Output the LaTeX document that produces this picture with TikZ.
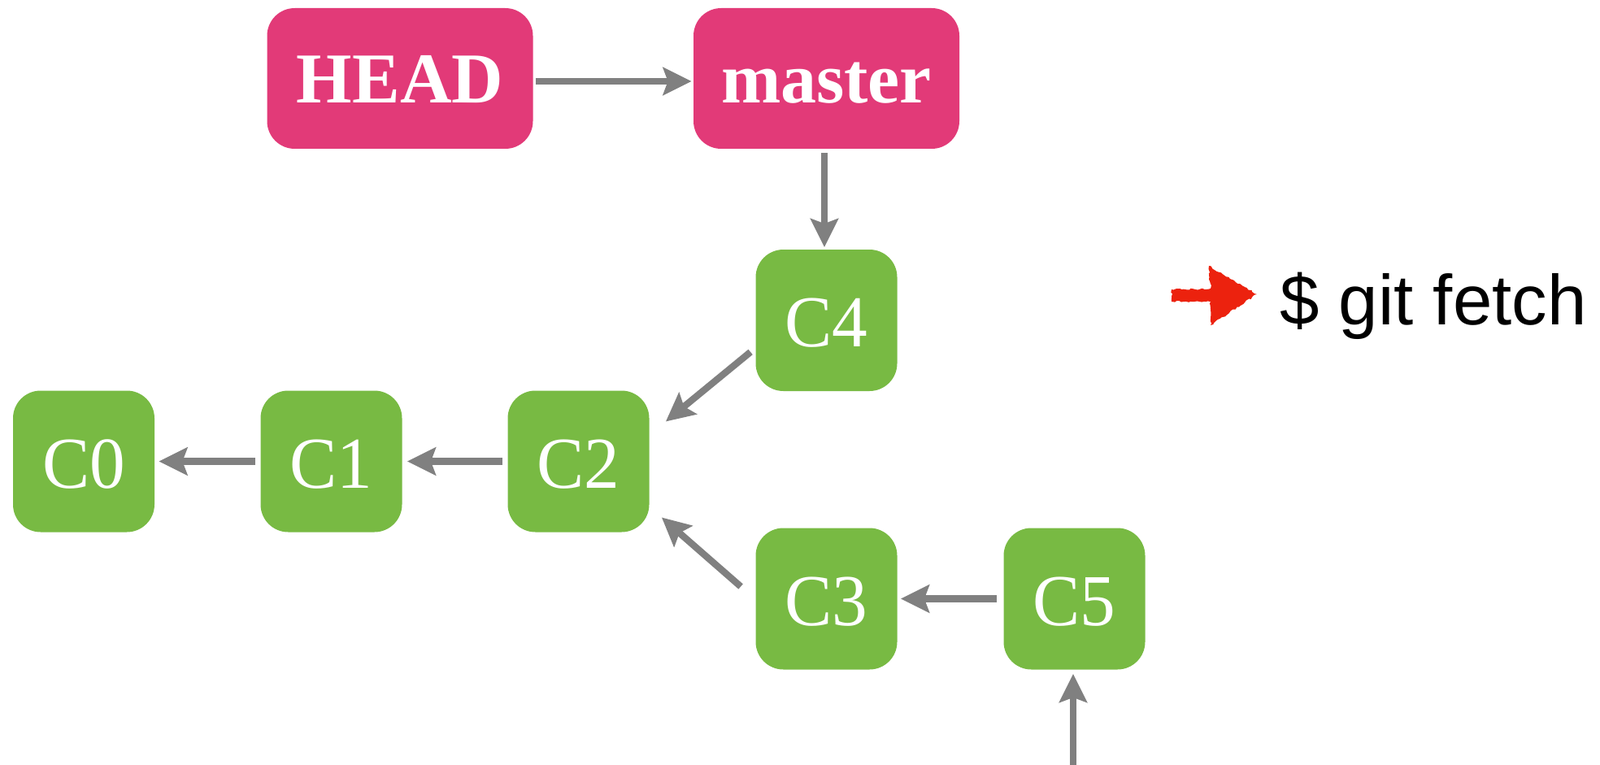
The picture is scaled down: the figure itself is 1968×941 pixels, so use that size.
\documentclass[tikz,border=0pt]{standalone}
\usepackage{fontspec}
\setmainfont{Liberation Serif}
\newfontfamily\gitsans{Liberation Sans}
\newfontfamily\commitfont[FakeStretch=0.97]{Liberation Serif}
\usetikzlibrary{arrows.meta,calc,decorations.pathmorphing}
\definecolor{refpink}{RGB}{226,58,120}
\definecolor{commitgreen}{RGB}{120,186,67}
\definecolor{arrowgray}{RGB}{128,128,128}
\definecolor{brushred}{RGB}{236,34,14}
\begin{document}
\begin{tikzpicture}[x=0.5pt,y=-0.5pt,
  refbox/.style={rectangle, rounded corners=17pt, fill=refpink, minimum width=163.5pt, minimum height=86.5pt, inner sep=0pt, text=white, font=\bfseries\fontsize{44}{44}\selectfont, text height=30.5pt, text depth=0pt},
  commit/.style={rectangle, rounded corners=17pt, fill=commitgreen, minimum width=87pt, minimum height=87pt, inner sep=0pt, text=white, font=\commitfont\fontsize{45}{45}\selectfont, text height=32.5pt, text depth=0pt},
  conn/.style={draw=arrowgray, line width=4.15pt, -{Stealth[length=17.5pt,width=17pt,inset=3pt]}}]
\useasboundingbox (0,0) rectangle (1968,941);
\node[refbox] (head) at (492,96.5) {HEAD};
\node[refbox] (master) at (1016.5,96.5) {master};
\node[commit] (c4) at (1016.5,394) {C4};
\node[commit] (c0) at (103,567.5) {C0};
\node[commit] (c1) at (407.5,567.5) {C1};
\node[commit] (c2) at (711.5,567.5) {C2};
\node[commit] (c3) at (1016.5,736.5) {C3};
\node[commit] (c5) at (1321.5,736.5) {C5};
\coordinate (feed) at (1320,941);
\draw[conn] ($(head.east)+(3,3.5)$) -- ($(master.west)+(-2,3.5)$);
\draw[conn] ($(master.south)+(-2.5,5)$) -- ($(c4.north)+(-2.5,-2.5)$);
\draw[conn] ($(c4.west)+(-6,39)$) -- ($(c2.east)+(20,-49)$);
\draw[conn] ($(c3.west)+(-18,-15)$) -- ($(c2.east)+(15,69)$);
\draw[conn] ($(c5.west)+(-8,0)$) -- ($(c3.east)+(4,0)$);
\draw[conn] ($(c2.west)+(-6,0)$) -- ($(c1.east)+(6,0)$);
\draw[conn] ($(c1.west)+(-6,0)$) -- ($(c0.east)+(5,0)$);
\draw[conn] (feed) -- ($(c5.south)+(-1.5,5)$);
\fill[brushred, decorate, decoration={random steps, segment length=1.5pt, amplitude=0.6pt}]
  (1441,356) -- (1489,355) -- (1487,327) -- (1546,362) -- (1489,400) -- (1489,371) -- (1441,371) -- cycle;
\node[anchor=base west, inner sep=0pt, font=\gitsans\fontsize{43.5}{43.5}\selectfont] (cmd) at (1574,399) {\$ git fetch};
\end{tikzpicture}
\end{document}
